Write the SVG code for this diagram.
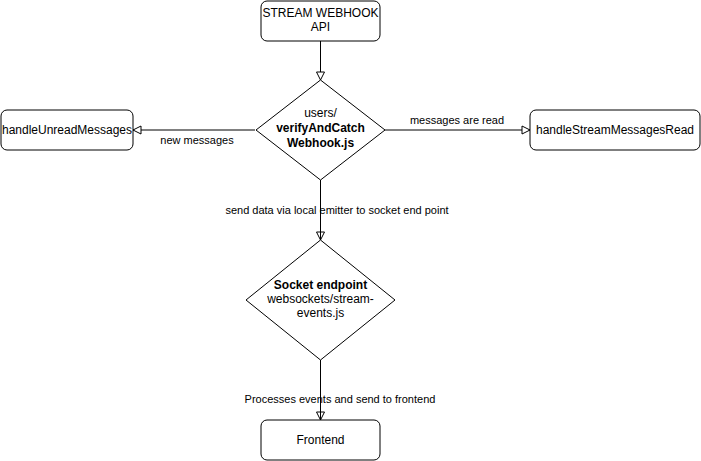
<svg xmlns="http://www.w3.org/2000/svg" width="701" height="461" viewBox="0 0 701 461">
<style>
.n{fill:#fff;stroke:#000;stroke-width:1}
.t{font-family:"Liberation Sans",Arial,sans-serif;font-size:12px;fill:#000;text-anchor:middle}
.b{font-weight:bold}
.l{font-family:"Liberation Sans",Arial,sans-serif;font-size:11px;fill:#000;text-anchor:middle}
.e{fill:none;stroke:#000;stroke-width:1}
</style>
<defs>
<marker id="a" markerWidth="10" markerHeight="10" refX="9" refY="5" orient="auto" markerUnits="userSpaceOnUse">
<path d="M1,1 L9,5 L1,9 Z" fill="#fff" stroke="#000" stroke-width="1"/>
</marker>
</defs>
<rect width="701" height="461" fill="#fff"/>
<g id="connectors">
<path class="e" d="M320.5,41 V80" marker-end="url(#a)"/>
<path class="e" d="M255,130 H133" marker-end="url(#a)"/>
<path class="e" d="M385,130 H530" marker-end="url(#a)"/>
<path class="e" d="M320.5,180 V240" marker-end="url(#a)"/>
<path class="e" d="M320.5,360 V420" marker-end="url(#a)"/>
<rect x="225" y="203" width="225" height="14" fill="#fff"/>
<rect x="243" y="392" width="195" height="14" fill="#fff"/>
<text class="l" x="197" y="144">new messages</text>
<text class="l" x="457" y="124">messages are read</text>
<text class="l" x="337" y="214">send data via local emitter to socket end point</text>
<text class="l" x="340" y="403">Processes events and send to frontend</text>
<path class="e" d="M320.5,180 V240"/>
<path class="e" d="M320.5,360 V420"/>
</g>
<g id="stream-webhook-api">
<rect class="n" x="261" y="1" width="119" height="40" rx="6"/>
<text class="t" x="320.5" y="17">STREAM WEBHOOK</text>
<text class="t" x="320.5" y="31">API</text>
</g>
<g id="verify-and-catch">
<path class="n" d="M320.5,80 L385,130 L320.5,180 L256,130 Z"/>
<text class="t" x="320.5" y="117">users/</text>
<text class="t b" x="320.5" y="132">verifyAndCatch</text>
<text class="t b" x="320.5" y="147">Webhook.js</text>
</g>
<g id="handle-unread">
<rect class="n" x="1" y="110" width="132" height="40" rx="6"/>
<text class="t" x="67" y="134">handleUnreadMessages</text>
</g>
<g id="handle-read">
<rect class="n" x="530" y="110" width="170" height="40" rx="6"/>
<text class="t" x="615" y="134">handleStreamMessagesRead</text>
</g>
<g id="socket-endpoint">
<path class="n" d="M320.5,240 L395,300 L320.5,360 L246,300 Z"/>
<text class="t b" x="320.5" y="289">Socket endpoint</text>
<text class="t" x="320.5" y="303">websockets/stream-</text>
<text class="t" x="320.5" y="317">events.js</text>
</g>
<g id="frontend">
<rect class="n" x="261" y="420" width="119" height="40" rx="6"/>
<text class="t" x="320.5" y="444">Frontend</text>
</g>
</svg>
